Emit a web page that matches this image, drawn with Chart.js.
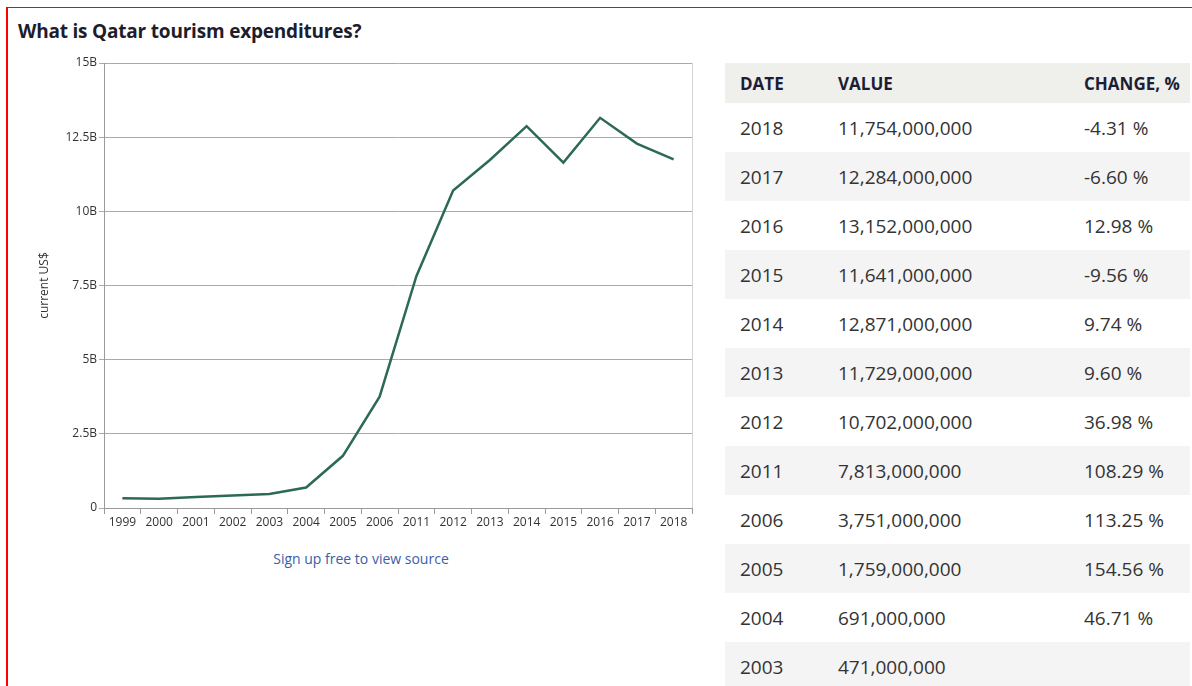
<!DOCTYPE html>
<html>
<head>
<meta charset="utf-8">
<script src="https://cdn.jsdelivr.net/npm/chart.js@4.4.0/dist/chart.umd.min.js"></script>
<style>
    body { margin: 0; background: #fff; font-family: "Open Sans", sans-serif; overflow: hidden; }
    #frame { position: absolute; left: 6px; top: 7px; width: 1200px; height: 700px; border-top: 1px solid #f00; border-left: 2px solid #f00; }
    h1 { position: absolute; left: 18px; top: 18px; margin: 0; font-size: 19px; font-weight: bold; color: #1d1d2b; letter-spacing: -0.2px; }
    #chartBox { position: absolute; left: 0; top: 40px; width: 700px; height: 500px; }
    #source { position: absolute; left: 0; width: 722px; top: 549px; text-align: center; font-size: 14px; color: #3a5ea8; }
    table { position: absolute; left: 725px; top: 63px; width: 465px; border-collapse: collapse; font-size: 19px; color: #333; table-layout: fixed; }
    th { background: #efefeb; text-align: left; height: 40px; padding: 0 0 0 15px; font-size: 17px; color: #1d1d38; white-space: nowrap; }
    td { height: 49px; padding: 0 0 0 15px; white-space: nowrap; }
    tbody tr:nth-child(even) td { background: #f4f4f4; }
</style>
</head>
<body>
<div id="frame"></div>
<h1>What is Qatar tourism expenditures?</h1>
<div id="chartBox"><canvas id="tourism" width="700" height="500"></canvas></div>
<div id="source">Sign up free to view source</div>
<table id="dataTable">
    <colgroup><col style="width:98px"><col style="width:246px"><col style="width:121px"></colgroup>
    <thead><tr><th>DATE</th><th>VALUE</th><th>CHANGE, %</th></tr></thead>
    <tbody></tbody>
</table>
<script>
const years = ['1999', '2000', '2001', '2002', '2003', '2004', '2005', '2006', '2011', '2012', '2013', '2014', '2015', '2016', '2017', '2018'];
const expenditures = [330e6, 310e6, 370e6, 420e6, 471e6, 691e6, 1759e6, 3751e6, 7813e6, 10702e6, 11729e6, 12871e6, 11641e6, 13152e6, 12284e6, 11754e6];

const tableYears = ['2018', '2017', '2016', '2015', '2014', '2013', '2012', '2011', '2006', '2005', '2004', '2003'];
const tableValues = ['11,754,000,000', '12,284,000,000', '13,152,000,000', '11,641,000,000', '12,871,000,000', '11,729,000,000', '10,702,000,000', '7,813,000,000', '3,751,000,000', '1,759,000,000', '691,000,000', '471,000,000'];
const tableChanges = ['-4.31 %', '-6.60 %', '12.98 %', '-9.56 %', '9.74 %', '9.60 %', '36.98 %', '108.29 %', '113.25 %', '154.56 %', '46.71 %', ''];

const tbody = document.querySelector('#dataTable tbody');
for (let i = 0; i < tableYears.length; i++) {
    const tr = document.createElement('tr');
    tr.innerHTML = '<td>' + tableYears[i] + '</td><td>' + tableValues[i] + '</td><td>' + tableChanges[i] + '</td>';
    tbody.appendChild(tr);
}

// light frame on the right side of the plot
const rightBorder = {
    id: 'rightBorder',
    beforeDatasetsDraw(chart) {
        const a = chart.chartArea;
        const c = chart.ctx;
        c.save();
        c.strokeStyle = '#d4d4d4';
        c.lineWidth = 1;
        c.beginPath();
        c.moveTo(a.right + 0.5, a.top);
        c.lineTo(a.right + 0.5, a.bottom);
        c.stroke();
        c.restore();
    }
};

const ctx = document.getElementById('tourism').getContext('2d');
const tourismChart = new Chart(ctx, {
    type: 'line',
    data: {
        labels: years,
        datasets: [{
            label: 'current US$',
            data: expenditures,
            borderColor: '#2d6a55',
            borderWidth: 2.5,
            pointRadius: 0,
            tension: 0,
            fill: false
        }]
    },
    options: {
        responsive: false,
        animation: false,
        layout: { padding: { top: 23, right: 8, left: 0, bottom: 0 } },
        plugins: {
            legend: { display: false },
            tooltip: { enabled: false }
        },
        scales: {
            x: {
                offset: true,
                grid: { offset: true, drawOnChartArea: false, color: '#999', tickLength: 6 },
                border: { color: '#999' },
                ticks: { color: '#333', font: { family: 'Open Sans', size: 12 }, maxRotation: 0, autoSkip: false, padding: 1 },
                afterFit(scale) { scale.height = 32; }
            },
            y: {
                min: 0,
                max: 15e9,
                grid: { color: '#aaa', drawTicks: true, tickLength: 5 },
                border: { color: '#999' },
                ticks: {
                    stepSize: 2.5e9,
                    color: '#333',
                    font: { family: 'Open Sans', size: 12 },
                    padding: 2,
                    callback: v => v === 0 ? '0' : (v / 1e9) + 'B'
                },
                title: {
                    display: true,
                    text: 'current US$',
                    color: '#333',
                    font: { family: 'Open Sans', size: 12 },
                    padding: { top: 37, bottom: 0 }
                },
                afterFit(scale) { scale.width = 104; }
            }
        }
    },
    plugins: [rightBorder]
});
</script>
</body>
</html>
